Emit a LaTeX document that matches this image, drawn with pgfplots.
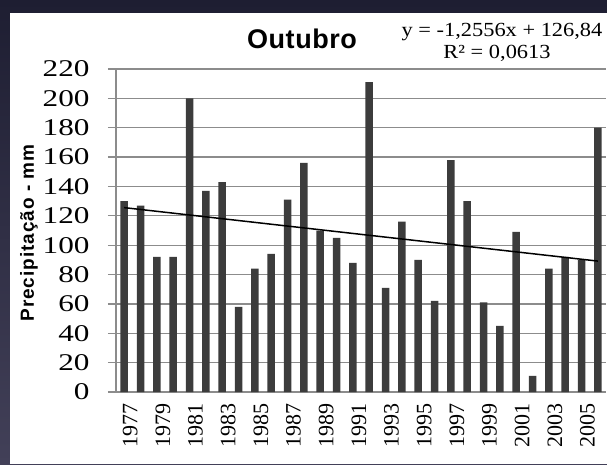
\documentclass[border=0pt]{standalone}
\usepackage{fontspec}
\setmainfont{Liberation Serif}
\newfontfamily\tickfont[FakeStretch=1.3]{Liberation Serif}
\newfontfamily\eqfont[FakeStretch=1.12]{Liberation Serif}
\newfontfamily\headfont[LetterSpace=2]{Liberation Sans}
\newfontfamily\labfont[LetterSpace=5]{Liberation Sans}
\usepackage{pgfplots}
\pgfplotsset{compat=1.18}
\definecolor{bgtop}{RGB}{30,30,50}
\definecolor{bgbot}{RGB}{66,64,88}
\definecolor{barfill}{RGB}{60,60,60}
\definecolor{gridgray}{RGB}{140,140,140}

\begin{document}
\begin{tikzpicture}[x=1pt,y=1pt]
% fundo escuro e area branca do grafico
\shade[top color=bgtop,bottom color=bgbot] (0,0) rectangle (607,464);
\fill[white] (10,0) rectangle (607,451);
\begin{axis}[
    at={(116pt,72pt)}, anchor=south west,
    scale only axis, width=490pt, height=323pt,
    xmin=0.5, xmax=30.5, ymin=0, ymax=220,
    ytick={0,20,...,220},
    xtick={1,3,...,29},
    xticklabels={1977,1979,1981,1983,1985,1987,1989,1991,1993,1995,1997,1999,2001,2003,2005},
    ymajorgrids, grid style={gridgray, line width=1.2pt},
    axis x line*=bottom, axis y line*=left,
    axis line style={gridgray, line width=1.2pt},
    x tick style={draw=none},
    y tick style={gridgray, line width=1.2pt},
    tick align=outside, major tick length=8pt,
    /pgf/number format/assume math mode=true,
    yticklabel style={font=\tickfont\fontsize{24}{24}\selectfont, anchor=east, xshift=-15pt},
    xticklabel style={font=\fontsize{22}{22}\selectfont, rotate=90, anchor=east, yshift=-6pt},
]
\addplot[ybar, bar width=7.5pt, fill=barfill, draw=none] coordinates {
    (1,130) (2,127) (3,92) (4,92) (5,200) (6,137) (7,143) (8,58) (9,84) (10,94)
    (11,131) (12,156) (13,110) (14,105) (15,88) (16,211) (17,71) (18,116) (19,90) (20,62)
    (21,158) (22,130) (23,61) (24,45) (25,109) (26,11) (27,84) (28,92) (29,90) (30,180)
};
% linha de tendencia y = -1,2556x + 126,84
\addplot[black, line width=1.5pt] coordinates {(1,125.58) (30,89.17)};
\end{axis}
\node[font=\headfont\bfseries\fontsize{27}{27}\selectfont] at (302,425) {Outubro};
\node[font=\eqfont\fontsize{20}{20}\selectfont] at (502,432) {y = -1,2556x + 126,84};
\node[font=\eqfont\fontsize{20}{20}\selectfont] at (497,411) {R² = 0,0613};
\node[rotate=90, font=\labfont\bfseries\fontsize{19}{19}\selectfont] at (29,231) {Precipitação - mm};
\pgfresetboundingbox
\useasboundingbox (0,0) rectangle (607,464);
\end{tikzpicture}
\end{document}
